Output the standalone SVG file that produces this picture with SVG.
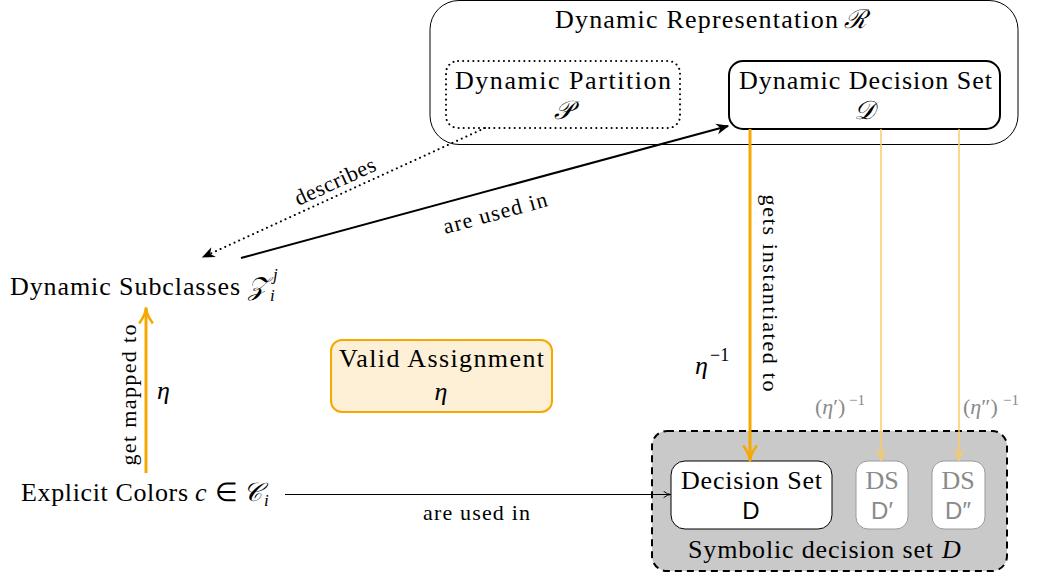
<svg xmlns="http://www.w3.org/2000/svg" width="1041" height="579" viewBox="0 0 1041 579">
  <defs>
    <!-- small open "to" head -->
    <marker id="ah" viewBox="0 0 10 10" refX="9" refY="5" markerWidth="8" markerHeight="8" orient="auto" markerUnits="userSpaceOnUse">
      <path d="M1,1 Q6,5 10,5 Q6,5 1,9" fill="none" stroke="#000" stroke-width="1.2"/>
    </marker>
    <!-- filled stealth head -->
    <marker id="stealth" viewBox="0 0 10 10" refX="9" refY="5" markerWidth="13" markerHeight="13" orient="auto" markerUnits="userSpaceOnUse">
      <path d="M0,0.8 L10,5 L0,9.2 L3,5 Z" fill="#000"/>
    </marker>
    <marker id="ahO" viewBox="0 0 10 10" refX="9" refY="5" markerWidth="17" markerHeight="17" orient="auto" markerUnits="userSpaceOnUse">
      <path d="M0.5,1 Q6,5 10,5 Q6,5 0.5,9" fill="none" stroke="#f6a800" stroke-width="1.5"/>
    </marker>
    <marker id="ahLO" viewBox="0 0 10 10" refX="9" refY="5" markerWidth="12" markerHeight="12" orient="auto" markerUnits="userSpaceOnUse">
      <path d="M0.5,1 Q6,5 10,5 Q6,5 0.5,9" fill="none" stroke="#f9ca66" stroke-width="1.4"/>
    </marker>
  </defs>

  <!-- container: dynamic representation -->
  <g id="dynamic-representation">
    <rect x="430" y="0.5" width="588" height="144" rx="29" fill="#fff" stroke="#000" stroke-width="1"/>
    <text font-family="Liberation Serif" font-size="26" x="555" y="28" textLength="283" lengthAdjust="spacing">Dynamic Representation</text>
    <text font-family="Liberation Serif" font-size="26" x="844" y="28" font-style="italic">ℛ</text>
  </g>

  <g id="dynamic-partition">
    <rect x="446" y="61" width="234" height="67" rx="12" fill="#fff" stroke="#000" stroke-width="2" stroke-dasharray="0.1 5" stroke-linecap="round"/>
    <text font-family="Liberation Serif" font-size="26" x="455" y="89" textLength="216" lengthAdjust="spacing">Dynamic Partition</text>
    <text font-family="Liberation Serif" font-size="26" x="563" y="119" text-anchor="middle" font-style="italic">𝒫</text>
  </g>

  <g id="dynamic-decision-set">
    <rect x="729" y="61" width="271" height="68" rx="14" fill="#fff" stroke="#000" stroke-width="2"/>
    <text font-family="Liberation Serif" font-size="26" x="739" y="89" textLength="253" lengthAdjust="spacing">Dynamic Decision Set</text>
    <text font-family="Liberation Serif" font-size="26" x="864" y="119" text-anchor="middle" font-style="italic">𝒟</text>
  </g>

  <!-- container: symbolic decision set -->
  <g id="symbolic-decision-set">
    <rect x="652" y="431" width="355" height="140" rx="15" fill="#c9c9c9" stroke="#000" stroke-width="2" stroke-dasharray="7 5"/>
    <text font-family="Liberation Serif" font-size="26" x="688" y="558" textLength="245" lengthAdjust="spacing">Symbolic decision set</text>
    <text font-family="Liberation Serif" font-size="26" x="942" y="558" font-style="italic">D</text>
  </g>

  <g id="decision-set">
    <rect x="671" y="461" width="161" height="68" rx="14" fill="#fff" stroke="#000" stroke-width="1"/>
    <text font-family="Liberation Serif" font-size="26" x="681" y="489" textLength="141" lengthAdjust="spacing">Decision Set</text>
    <text font-family="Liberation Sans" font-size="24" x="751" y="519" text-anchor="middle">D</text>
  </g>

  <g id="ds-prime">
    <rect x="856" y="461" width="52" height="68" rx="12" fill="#fff" stroke="#9a9a9a" stroke-width="1"/>
    <text font-family="Liberation Serif" font-size="26" fill="#8a8a8a" x="882" y="489" text-anchor="middle">DS</text>
    <text font-family="Liberation Sans" font-size="24" fill="#8a8a8a" x="882" y="519" text-anchor="middle">D′</text>
  </g>

  <g id="ds-double-prime">
    <rect x="932" y="461" width="53" height="68" rx="12" fill="#fff" stroke="#9a9a9a" stroke-width="1"/>
    <text font-family="Liberation Serif" font-size="26" fill="#8a8a8a" x="958" y="489" text-anchor="middle">DS</text>
    <text font-family="Liberation Sans" font-size="24" fill="#8a8a8a" x="958" y="519" text-anchor="middle">D″</text>
  </g>

  <g id="dynamic-subclasses">
    <text font-family="Liberation Serif" font-size="26" x="10" y="295" textLength="230" lengthAdjust="spacing">Dynamic Subclasses</text>
    <text font-family="Liberation Serif" font-size="26" x="248" y="295" font-style="italic">𝒵</text>
    <text font-family="Liberation Serif" font-size="17" x="270" y="301" font-style="italic">i</text>
    <text font-family="Liberation Serif" font-size="17" x="273" y="280" font-style="italic">j</text>
  </g>

  <g id="explicit-colors">
    <text font-family="Liberation Serif" font-size="26" x="21" y="501" textLength="167" lengthAdjust="spacing">Explicit Colors</text>
    <text font-family="Liberation Serif" font-size="26" x="195" y="501" font-style="italic">c</text>
    <text font-family="Liberation Serif" font-size="26" x="215" y="501">∈</text>
    <text font-family="Liberation Serif" font-size="26" x="243" y="501" font-style="italic">𝒞</text>
    <text font-family="Liberation Serif" font-size="17" x="264" y="506" font-style="italic">i</text>
  </g>

  <g id="valid-assignment">
    <rect x="331" y="340" width="221" height="72" rx="11" fill="#fdf0d6" stroke="#f6a800" stroke-width="2"/>
    <text font-family="Liberation Serif" font-size="26" x="339" y="367" textLength="205" lengthAdjust="spacing">Valid Assignment</text>
    <text font-family="Liberation Serif" font-size="26" x="441" y="400" text-anchor="middle" font-style="italic">η</text>
  </g>

  <!-- connectors -->
  <g id="connectors">
    <!-- describes -->
    <line x1="485" y1="128" x2="203" y2="257" stroke="#000" stroke-width="2" stroke-dasharray="0.1 5" stroke-linecap="round" marker-end="url(#stealth)"/>
    <text font-family="Liberation Serif" font-size="22" transform="translate(338,188) rotate(-24.5)" text-anchor="middle" textLength="87" lengthAdjust="spacing">describes</text>

    <!-- are used in (subclasses to dynamic decision set) -->
    <line x1="241" y1="258" x2="728" y2="126" stroke="#000" stroke-width="2" marker-end="url(#stealth)"/>
    <text font-family="Liberation Serif" font-size="22" transform="translate(497,220) rotate(-15.2)" text-anchor="middle" textLength="107" lengthAdjust="spacing">are used in</text>

    <!-- get mapped to -->
    <line x1="146" y1="473" x2="146" y2="309" stroke="#f6a800" fill="none" stroke-width="3" marker-end="url(#ahO)"/>
    <text font-family="Liberation Serif" font-size="22" transform="translate(136,395) rotate(-90)" text-anchor="middle" textLength="141" lengthAdjust="spacing">get mapped to</text>
    <text font-family="Liberation Serif" font-size="26" x="157" y="399" font-style="italic">η</text>

    <!-- explicit colors to decision set -->
    <line x1="285" y1="494.5" x2="670" y2="494.5" stroke="#000" stroke-width="1" marker-end="url(#ah)"/>
    <text font-family="Liberation Serif" font-size="22" x="423" y="520" textLength="107" lengthAdjust="spacing">are used in</text>

    <!-- gets instantiated to -->
    <line x1="750" y1="129" x2="750" y2="460" stroke="#f6a800" fill="none" stroke-width="3" marker-end="url(#ahO)"/>
    <text font-family="Liberation Serif" font-size="22" transform="translate(763,293) rotate(90)" text-anchor="middle" textLength="197" lengthAdjust="spacing">gets instantiated to</text>
    <text font-family="Liberation Serif" font-size="26" x="695" y="374" font-style="italic">η</text>
    <text font-family="Liberation Serif" font-size="18" x="710" y="361">−1</text>

    <line x1="881" y1="129" x2="881" y2="460" stroke="#f9ca66" fill="none" stroke-width="1.5" marker-end="url(#ahLO)"/>
    <text font-family="Liberation Serif" font-size="22" fill="#8a8a8a" x="815" y="414">(<tspan font-style="italic">η</tspan>′)</text>
    <text font-family="Liberation Serif" font-size="15" fill="#8a8a8a" x="849" y="405">−1</text>

    <line x1="959" y1="129" x2="959" y2="460" stroke="#f9ca66" fill="none" stroke-width="1.5" marker-end="url(#ahLO)"/>
    <text font-family="Liberation Serif" font-size="22" fill="#8a8a8a" x="963" y="414">(<tspan font-style="italic">η</tspan>″)</text>
    <text font-family="Liberation Serif" font-size="15" fill="#8a8a8a" x="1003" y="405">−1</text>
  </g>
</svg>
